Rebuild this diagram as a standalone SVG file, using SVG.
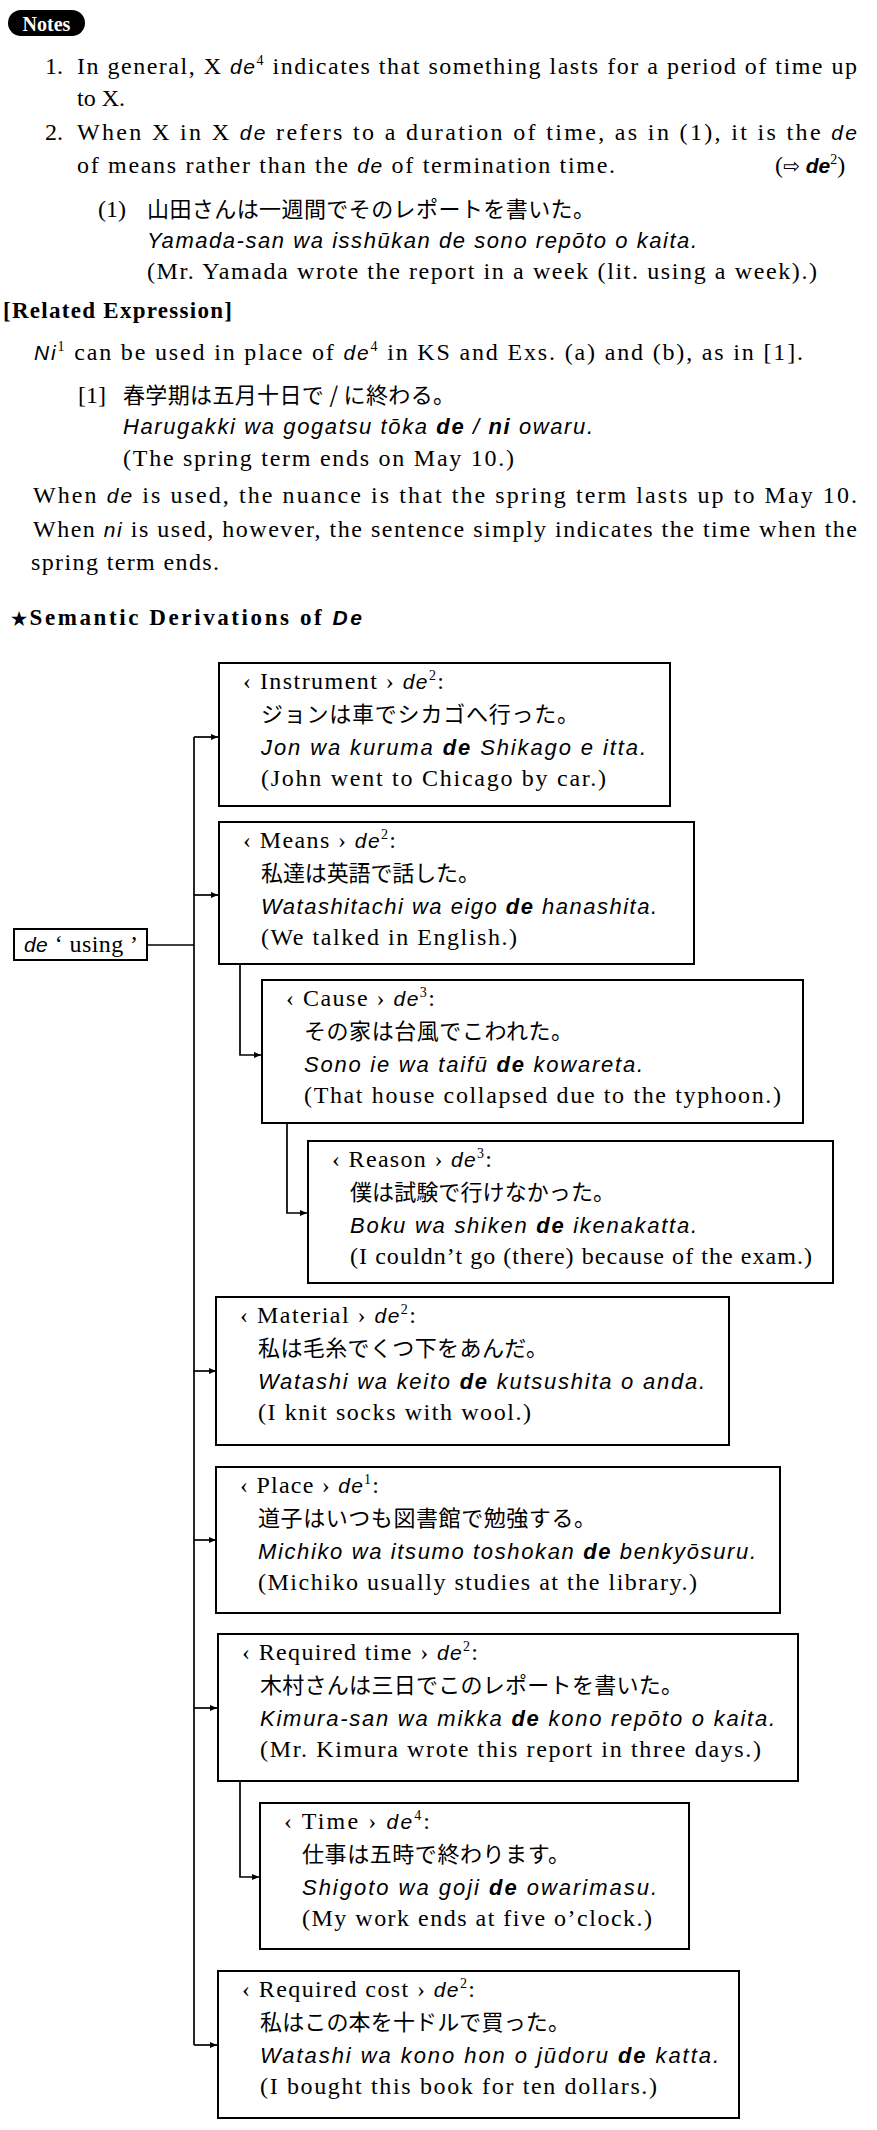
<svg xmlns="http://www.w3.org/2000/svg" width="877" height="2130" viewBox="0 0 877 2130">
<style>
text{fill:#000}
.s{font-family:"Liberation Serif","Noto Sans CJK JP",serif;font-size:24px}
.h{font-family:"Liberation Serif",serif;font-size:23px;font-weight:bold}
.j{font-family:"Noto Sans CJK JP",sans-serif;font-size:22px}
.r{font-family:"Liberation Sans",sans-serif;font-style:italic;font-size:22px}
.i{font-family:"Liberation Sans",sans-serif;font-style:italic;font-size:21px}
.r .b{font-size:22px}
.b{font-weight:bold}
.sup{font-size:14px}
.box{fill:#fff;stroke:#000;stroke-width:2}
.ln{fill:none;stroke:#000;stroke-width:1.7}
</style>
<defs>
<marker id="ah" markerUnits="userSpaceOnUse" markerWidth="8" markerHeight="8" refX="7" refY="4" orient="auto">
<path d="M0,1 L7,4 L0,7 Z" fill="#000"/>
</marker>
</defs>

<g id="notes">
<rect x="8" y="10" width="77" height="26" rx="13" fill="#000"/>
<text x="46.5" y="30.5" text-anchor="middle" font-family="Liberation Serif,serif" font-size="20" font-weight="bold" style="fill:#fff">Notes</text>
<text class="s" x="45" y="74">1.</text>
<text class="s" x="77" y="74" textLength="780" lengthAdjust="spacing">In general, X <tspan class="i">de</tspan><tspan class="sup" dy="-9">4</tspan><tspan dy="9"> indicates that something lasts for a period of time up</tspan></text>
<text class="s" x="77" y="106">to X.</text>
<text class="s" x="45" y="140">2.</text>
<text class="s" x="77" y="140" textLength="780" lengthAdjust="spacing">When X in X <tspan class="i">de</tspan> refers to a duration of time, as in (1), it is the <tspan class="i">de</tspan></text>
<text class="s" x="77" y="173" textLength="538" lengthAdjust="spacing">of means rather than the <tspan class="i">de</tspan> of termination time.</text>
<text class="s" x="775" y="173">(<tspan font-family="DejaVu Sans,sans-serif" font-size="20">⇨</tspan> <tspan class="i b">de</tspan><tspan class="sup" dy="-9">2</tspan><tspan dy="9">)</tspan></text>
<text class="s" x="98" y="217">(1)</text>
<text class="j" x="147" y="217" textLength="448" lengthAdjust="spacing">山田さんは一週間でそのレポートを書いた。</text>
<text class="r" x="147" y="248" textLength="550" lengthAdjust="spacing">Yamada-san wa isshūkan de sono repōto o kaita.</text>
<text class="s" x="147" y="279" textLength="670" lengthAdjust="spacing">(Mr. Yamada wrote the report in a week (lit. using a week).)</text>
</g>

<g id="related">
<text class="h" x="3" y="318" textLength="229" lengthAdjust="spacing">[Related Expression]</text>
<text class="s" x="34" y="360" textLength="769" lengthAdjust="spacing"><tspan class="i">Ni</tspan><tspan class="sup" dy="-9">1</tspan><tspan dy="9"> can be used in place of </tspan><tspan class="i">de</tspan><tspan class="sup" dy="-9">4</tspan><tspan dy="9"> in KS and Exs. (a) and (b), as in [1].</tspan></text>
<text class="s" x="78" y="403">[1]</text>
<text class="j" x="123" y="403" textLength="332" lengthAdjust="spacing">春学期は五月十日で / に終わる。</text>
<text class="r" x="123" y="434" textLength="470" lengthAdjust="spacing">Harugakki wa gogatsu tōka <tspan class="b">de</tspan> / <tspan class="b">ni</tspan> owaru.</text>
<text class="s" x="123" y="466" textLength="391" lengthAdjust="spacing">(The spring term ends on May 10.)</text>
<text class="s" x="33" y="503" textLength="824" lengthAdjust="spacing">When <tspan class="i">de</tspan> is used, the nuance is that the spring term lasts up to May 10.</text>
<text class="s" x="33" y="537" textLength="824" lengthAdjust="spacing">When <tspan class="i">ni</tspan> is used, however, the sentence simply indicates the time when the</text>
<text class="s" x="31" y="570" textLength="188" lengthAdjust="spacing">spring term ends.</text>
</g>

<g id="heading">
<text class="h" x="11" y="625" font-size="24" textLength="351" lengthAdjust="spacing"><tspan font-size="18">★</tspan>Semantic Derivations of <tspan class="i">De</tspan></text>
</g>

<g id="connectors">
<line class="ln" x1="147" y1="945" x2="194" y2="945"/>
<line class="ln" x1="194" y1="737" x2="194" y2="2045"/>
<line class="ln" x1="194" y1="737" x2="218" y2="737" marker-end="url(#ah)"/>
<line class="ln" x1="194" y1="895" x2="218" y2="895" marker-end="url(#ah)"/>
<line class="ln" x1="194" y1="1371" x2="216" y2="1371" marker-end="url(#ah)"/>
<line class="ln" x1="194" y1="1540" x2="216" y2="1540" marker-end="url(#ah)"/>
<line class="ln" x1="194" y1="1708" x2="217" y2="1708" marker-end="url(#ah)"/>
<line class="ln" x1="194" y1="2045" x2="217" y2="2045" marker-end="url(#ah)"/>
<path class="ln" d="M240,964 V1055 H261" marker-end="url(#ah)"/>
<path class="ln" d="M287,1123 V1213 H307" marker-end="url(#ah)"/>
<path class="ln" d="M240,1781 V1877 H259" marker-end="url(#ah)"/>
</g>

<g id="de-using">
<rect class="box" x="14" y="929" width="133" height="31"/>
<text class="s" x="24" y="952" textLength="114" lengthAdjust="spacing"><tspan class="i">de</tspan> ‘ using ’</text>
</g>

<g id="instrument">
<rect class="box" x="219" y="663" width="451" height="143"/>
<text class="s" x="243" y="689" textLength="201" lengthAdjust="spacing">‹ Instrument › <tspan class="i">de</tspan><tspan class="sup" dy="-9">2</tspan><tspan dy="9">:</tspan></text>
<text class="j" x="261" y="722" textLength="318" lengthAdjust="spacing">ジョンは車でシカゴへ行った。</text>
<text class="r" x="261" y="755" textLength="385" lengthAdjust="spacing">Jon wa kuruma <tspan class="b">de</tspan> Shikago e itta.</text>
<text class="s" x="261" y="786" textLength="345" lengthAdjust="spacing">(John went to Chicago by car.)</text>
</g>

<g id="means">
<rect class="box" x="219" y="822" width="475" height="142"/>
<text class="s" x="243" y="848" textLength="153" lengthAdjust="spacing">‹ Means › <tspan class="i">de</tspan><tspan class="sup" dy="-9">2</tspan><tspan dy="9">:</tspan></text>
<text class="j" x="261" y="881" textLength="219" lengthAdjust="spacing">私達は英語で話した。</text>
<text class="r" x="261" y="914" textLength="396" lengthAdjust="spacing">Watashitachi wa eigo <tspan class="b">de</tspan> hanashita.</text>
<text class="s" x="261" y="945" textLength="256" lengthAdjust="spacing">(We talked in English.)</text>
</g>

<g id="cause">
<rect class="box" x="262" y="980" width="541" height="143"/>
<text class="s" x="286" y="1006" textLength="149" lengthAdjust="spacing">‹ Cause › <tspan class="i">de</tspan><tspan class="sup" dy="-9">3</tspan><tspan dy="9">:</tspan></text>
<text class="j" x="304" y="1039" textLength="269" lengthAdjust="spacing">その家は台風でこわれた。</text>
<text class="r" x="304" y="1072" textLength="339" lengthAdjust="spacing">Sono ie wa taifū <tspan class="b">de</tspan> kowareta.</text>
<text class="s" x="304" y="1103" textLength="477" lengthAdjust="spacing">(That house collapsed due to the typhoon.)</text>
</g>

<g id="reason">
<rect class="box" x="308" y="1141" width="525" height="142"/>
<text class="s" x="332" y="1167" textLength="160" lengthAdjust="spacing">‹ Reason › <tspan class="i">de</tspan><tspan class="sup" dy="-9">3</tspan><tspan dy="9">:</tspan></text>
<text class="j" x="350" y="1200" textLength="265" lengthAdjust="spacing">僕は試験で行けなかった。</text>
<text class="r" x="350" y="1233" textLength="347" lengthAdjust="spacing">Boku wa shiken <tspan class="b">de</tspan> ikenakatta.</text>
<text class="s" x="350" y="1264" textLength="462" lengthAdjust="spacing">(I couldn’t go (there) because of the exam.)</text>
</g>

<g id="material">
<rect class="box" x="216" y="1297" width="513" height="148"/>
<text class="s" x="240" y="1323" textLength="176" lengthAdjust="spacing">‹ Material › <tspan class="i">de</tspan><tspan class="sup" dy="-9">2</tspan><tspan dy="9">:</tspan></text>
<text class="j" x="258" y="1356" textLength="290" lengthAdjust="spacing">私は毛糸でくつ下をあんだ。</text>
<text class="r" x="258" y="1389" textLength="447" lengthAdjust="spacing">Watashi wa keito <tspan class="b">de</tspan> kutsushita o anda.</text>
<text class="s" x="258" y="1420" textLength="273" lengthAdjust="spacing">(I knit socks with wool.)</text>
</g>

<g id="place">
<rect class="box" x="216" y="1467" width="564" height="146"/>
<text class="s" x="240" y="1493" textLength="139" lengthAdjust="spacing">‹ Place › <tspan class="i">de</tspan><tspan class="sup" dy="-9">1</tspan><tspan dy="9">:</tspan></text>
<text class="j" x="258" y="1526" textLength="338" lengthAdjust="spacing">道子はいつも図書館で勉強する。</text>
<text class="r" x="258" y="1559" textLength="498" lengthAdjust="spacing">Michiko wa itsumo toshokan <tspan class="b">de</tspan> benkyōsuru.</text>
<text class="s" x="258" y="1590" textLength="439" lengthAdjust="spacing">(Michiko usually studies at the library.)</text>
</g>

<g id="required-time">
<rect class="box" x="218" y="1634" width="580" height="147"/>
<text class="s" x="242" y="1660" textLength="236" lengthAdjust="spacing">‹ Required time › <tspan class="i">de</tspan><tspan class="sup" dy="-9">2</tspan><tspan dy="9">:</tspan></text>
<text class="j" x="260" y="1693" textLength="423" lengthAdjust="spacing">木村さんは三日でこのレポートを書いた。</text>
<text class="r" x="260" y="1726" textLength="515" lengthAdjust="spacing">Kimura-san wa mikka <tspan class="b">de</tspan> kono repōto o kaita.</text>
<text class="s" x="260" y="1757" textLength="501" lengthAdjust="spacing">(Mr. Kimura wrote this report in three days.)</text>
</g>

<g id="time">
<rect class="box" x="260" y="1803" width="429" height="146"/>
<text class="s" x="284" y="1829" textLength="146" lengthAdjust="spacing">‹ Time › <tspan class="i">de</tspan><tspan class="sup" dy="-9">4</tspan><tspan dy="9">:</tspan></text>
<text class="j" x="302" y="1862" textLength="268" lengthAdjust="spacing">仕事は五時で終わります。</text>
<text class="r" x="302" y="1895" textLength="355" lengthAdjust="spacing">Shigoto wa goji <tspan class="b">de</tspan> owarimasu.</text>
<text class="s" x="302" y="1926" textLength="350" lengthAdjust="spacing">(My work ends at five o’clock.)</text>
</g>

<g id="required-cost">
<rect class="box" x="218" y="1971" width="521" height="147"/>
<text class="s" x="242" y="1997" textLength="233" lengthAdjust="spacing">‹ Required cost › <tspan class="i">de</tspan><tspan class="sup" dy="-9">2</tspan><tspan dy="9">:</tspan></text>
<text class="j" x="260" y="2030" textLength="310" lengthAdjust="spacing">私はこの本を十ドルで買った。</text>
<text class="r" x="260" y="2063" textLength="459" lengthAdjust="spacing">Watashi wa kono hon o jūdoru <tspan class="b">de</tspan> katta.</text>
<text class="s" x="260" y="2094" textLength="397" lengthAdjust="spacing">(I bought this book for ten dollars.)</text>
</g>
</svg>
